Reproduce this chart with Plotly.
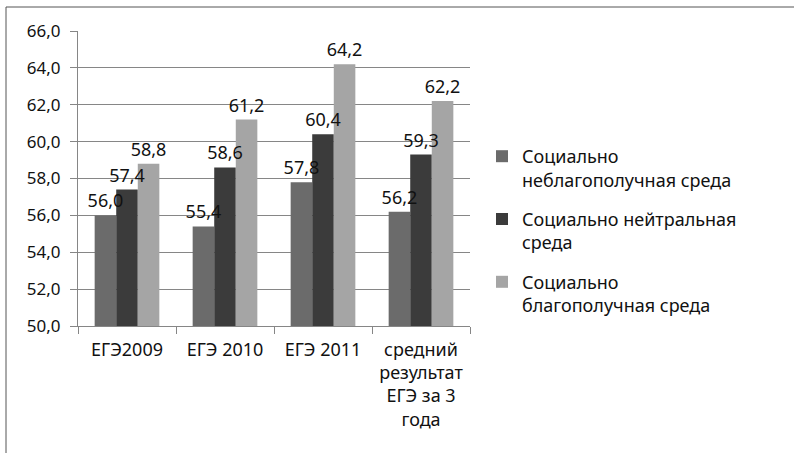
import plotly.graph_objects as go

categories = ["ЕГЭ2009", "ЕГЭ 2010", "ЕГЭ 2011", "средний<br>результат<br>ЕГЭ за 3<br>года"]
series_names = ["Социально<br>неблагополучная среда",
                "Социально нейтральная<br>среда",
                "Социально<br>благополучная среда"]
unfavorable = [56.0, 55.4, 57.8, 56.2]
neutral = [57.4, 58.6, 60.4, 59.3]
favorable = [58.8, 61.2, 64.2, 62.2]
y_ticks = [50, 52, 54, 56, 58, 60, 62, 64, 66]

colors = ["#6b6b6b", "#3b3b3b", "#a5a5a5"]
font = "Noto Sans"
series = [unfavorable, neutral, favorable]

fig = go.Figure()
# bars
for i, (name, vals, c) in enumerate(zip(series_names, series, colors)):
    fig.add_trace(go.Bar(
        x=categories, y=vals, name=name, legendgroup="g%d" % i, offsetgroup="s%d" % i,
        marker=dict(color=c, line=dict(width=0)), hoverinfo="skip",
    ))
# value labels drawn on top of all bars
for i, vals in enumerate(series):
    fig.add_trace(go.Bar(
        x=categories, y=vals, showlegend=False, offsetgroup="s%d" % i,
        marker=dict(color="rgba(0,0,0,0)", line=dict(width=0)),
        text=vals, texttemplate="%{y:.1f}", textposition="outside", constraintext="none",
        textfont=dict(size=18, color="#111111", family=font), cliponaxis=False,
        hoverinfo="skip",
    ))

L, R, T, B = 78, 324, 31, 127
W, H = 794, 453
pw, ph = W - L - R, H - T - B

fig.update_layout(
    width=W, height=H, margin=dict(l=L, r=R, t=T, b=B),
    paper_bgcolor="white", plot_bgcolor="white",
    barmode="group", bargap=0.34, bargroupgap=0,
    separators=", ",
    font=dict(family=font, size=17, color="#111111"),
    showlegend=True,
    legend=dict(x=(482 - L) / pw, y=(326 - 138) / ph, xanchor="left", yanchor="top",
                font=dict(size=18, family=font), traceorder="grouped", valign="top",
                tracegroupgap=13, itemwidth=30, bgcolor="rgba(0,0,0,0)"),
    xaxis=dict(showline=True, linecolor="#868686", linewidth=1, ticks="outside",
               ticklen=7, tickcolor="#868686", tickson="boundaries",
               ticklabelstandoff=7,
               tickfont=dict(size=18, family=font), showgrid=False),
    yaxis=dict(range=[50, 66], tickvals=y_ticks, tickformat=".1f",
               showline=True, linecolor="#868686", linewidth=1,
               ticks="outside", ticklen=7, tickcolor="#868686",
               ticklabelstandoff=6,
               gridcolor="#868686", gridwidth=1, zeroline=False,
               tickfont=dict(size=17, family=font)),
    shapes=[dict(type="rect", xref="paper", yref="paper",
                 x0=(6 - L) / pw, x1=(W + 5 - L) / pw,
                 y0=(326 - (H + 5)) / ph, y1=(326 - 7) / ph,
                 line=dict(color="#555555", width=1), fillcolor="rgba(0,0,0,0)", layer="below")],
)

fig.write_html("out.html", config={"displayModeBar": False},
               post_script="document.body.style.margin='0';document.body.style.overflow='hidden';")
